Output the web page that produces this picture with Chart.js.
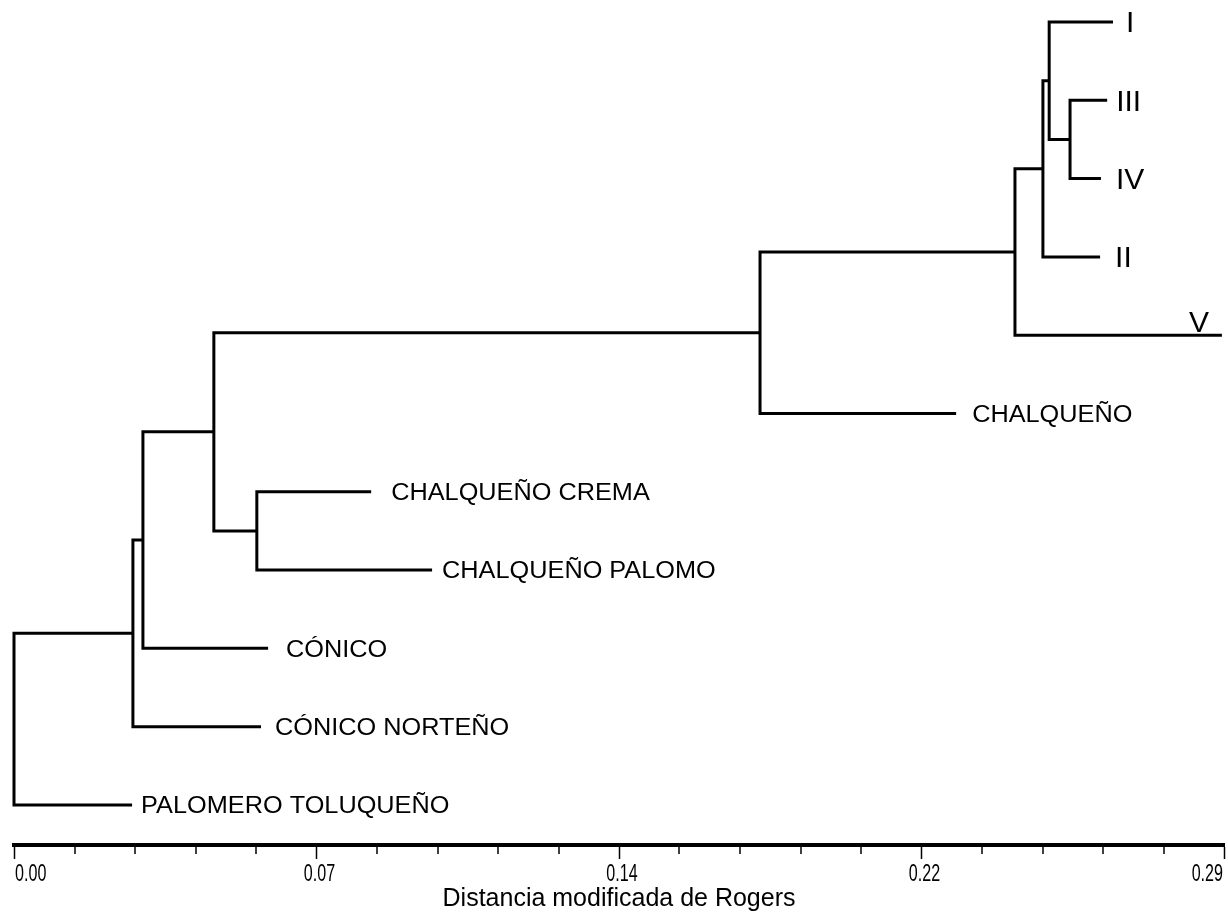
<!DOCTYPE html>
<html><head><meta charset="utf-8">
<script src="https://cdn.jsdelivr.net/npm/chart.js@4.4.1/dist/chart.umd.min.js"></script>
<style>html,body{margin:0;padding:0;background:#fff}#wrap{width:1228px;height:912px}</style>
</head><body><div id="wrap"><canvas id="c" width="1228" height="912"></canvas></div>
<script>
// Leaves, top to bottom
const leafNames = ['I','III','IV','II','V','CHALQUEÑO','CHALQUEÑO CREMA','CHALQUEÑO PALOMO','CÓNICO','CÓNICO NORTEÑO','PALOMERO TOLUQUEÑO'];
const leafDist = [0.2634,0.2620,0.2605,0.2603,0.2895,0.2258,0.0856,0.1002,0.0609,0.0592,0.0283];
// Internal nodes: child ids are leaf indexes (0-10) or 11 + node index
const nodeDist  = [0.2531,0.2481,0.2466,0.2399,0.1788,0.0582,0.0479,0.0309,0.0285,0.0000];
const nodeLeft  = [1, 0, 12, 13, 14, 6, 15, 17, 18, 19];
const nodeRight = [2, 11, 3, 4, 5, 7, 16, 8, 9, 10];
const tickLabels = ['0.00','0.07','0.14','0.22','0.29'];
const axisTitle = 'Distancia modificada de Rogers';

// ---- styling ----
const labelGap = [13, 9, 15, 15, 13, 16, 20, 10, 18, 14, 9];
const SANS = "'Liberation Sans',Arial,sans-serif";

const posX = [], posY = [];
leafNames.forEach((n, i) => { posX[i] = leafDist[i]; posY[i] = i; });
nodeDist.forEach((d, k) => {
  const id = leafNames.length + k;
  posX[id] = d;
  posY[id] = (posY[nodeLeft[k]] + posY[nodeRight[k]]) / 2;
});

const datasets = nodeDist.map((d, k) => {
  const l = nodeLeft[k], r = nodeRight[k];
  return {
    data: [
      {x: posX[l], y: posY[l]},
      {x: d, y: posY[l]},
      {x: d, y: posY[r]},
      {x: posX[r], y: posY[r]}
    ],
    showLine: true, borderColor: '#000', borderWidth: 3, pointRadius: 0,
    borderJoinStyle: 'miter', borderCapStyle: 'butt', tension: 0, clip: false, fill: false
  };
});

const axisExtras = {
  id: 'axisExtras',
  afterDraw(chart) {
    const xs = chart.scales.x, c = chart.ctx, y0 = xs.top;
    c.save(); c.strokeStyle = '#000'; c.lineWidth = 1.5;
    const n = xs.ticks.length;
    xs.ticks.forEach((t, i) => {
      const px = xs.getPixelForValue(t.value);
      if (i % 5 !== 0) {
        const rx = Math.round(px);
        c.beginPath(); c.moveTo(rx, y0); c.lineTo(rx, y0 + 9); c.stroke();
      } else {
        // condensed tick label
        const txt = tickLabels[i / 5];
        c.font = '23px ' + SANS;
        c.fillStyle = '#000';
        c.textBaseline = 'alphabetic';
        c.textAlign = i === 0 ? 'left' : (i === n - 1 ? 'right' : 'center');
        const ox = i === 0 ? 1 : (i === n - 1 ? -1 : 3);
        c.save(); c.translate(px + ox, y0 + 36); c.scale(0.7, 1);
        c.fillText(txt, 0, 0); c.restore();
      }
    });
    c.restore();
  }
};

const leafLabels = {
  id: 'leafLabels',
  afterDatasetsDraw(chart) {
    const xs = chart.scales.x, ys = chart.scales.y, c = chart.ctx;
    c.save(); c.fillStyle = '#000';
    leafNames.forEach((name, i) => {
      const px = xs.getPixelForValue(leafDist[i]);
      const py = ys.getPixelForValue(i);
      const roman = /^[IVX]+$/.test(name);
      if (roman) {
        c.font = '30px ' + SANS;
        if (name === 'V') {
          c.textAlign = 'right'; c.textBaseline = 'alphabetic';
          c.fillText(name, px - labelGap[i], py - 3);
        } else {
          c.textAlign = 'left'; c.textBaseline = 'middle';
          c.fillText(name, px + labelGap[i], py + 2);
        }
      } else {
        c.font = '23px ' + SANS;
        c.textAlign = 'left'; c.textBaseline = 'middle';
        c.save(); c.translate(px + labelGap[i], py + 2); c.scale(1.1, 1);
        c.fillText(name, 0, 0); c.restore();
      }
    });
    c.restore();
  }
};

new Chart(document.getElementById('c'), {
  type: 'scatter',
  data: { datasets },
  options: {
    responsive: false, animation: false, devicePixelRatio: 1,
    layout: { padding: { left: 14, right: 4, top: 0, bottom: 0 } },
    plugins: { legend: { display: false }, tooltip: { enabled: false } },
    scales: {
      x: {
        type: 'linear', min: 0, max: 0.29, position: 'bottom',
        border: { display: true, width: 4, color: '#000' },
        grid: {
          drawOnChartArea: false, drawTicks: true, tickLength: 14, tickWidth: 1.5,
          tickColor: (ctx) => (ctx.index % 5 === 0 ? '#000' : 'rgba(0,0,0,0)')
        },
        ticks: {
          stepSize: 0.0145, autoSkip: false, maxRotation: 0, minRotation: 0, align: 'inner',
          padding: 4, color: 'rgba(0,0,0,0)', font: { family: SANS, size: 16, lineHeight: 1.1875 },
          callback: (v, i) => (i % 5 === 0 ? tickLabels[i / 5] : '')
        },
        title: {
          display: true, text: axisTitle, color: '#000',
          font: { family: SANS, size: 25, lineHeight: 1.04 }, padding: { top: 0, bottom: 0 }
        }
      },
      y: { type: 'linear', display: false, reverse: true, min: -0.2813, max: 10.512 }
    }
  },
  plugins: [axisExtras, leafLabels]
});
</script></body></html>
